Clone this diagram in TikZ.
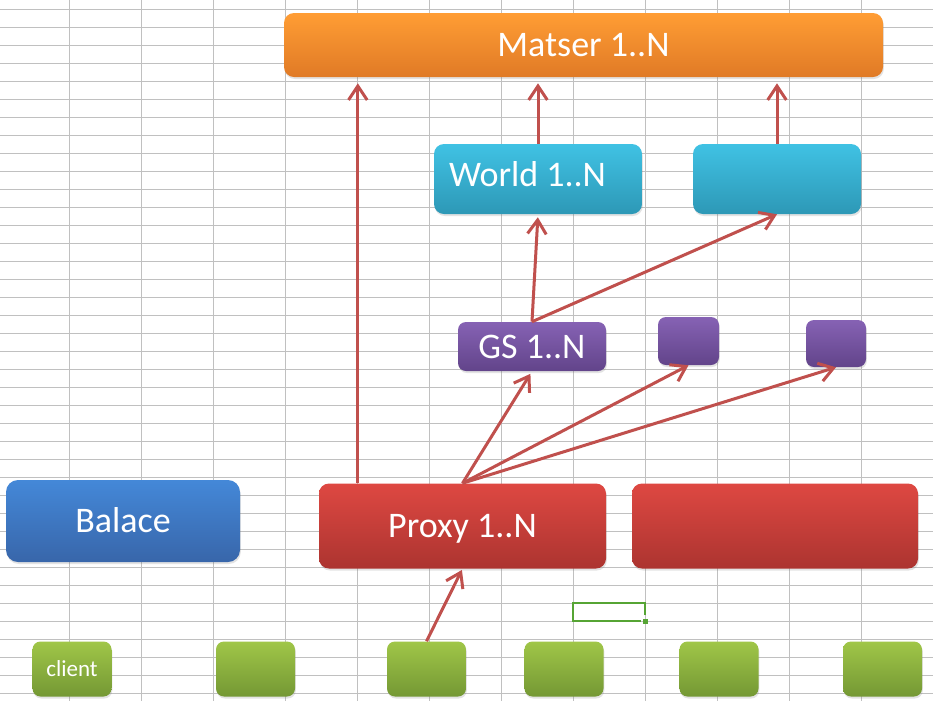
\documentclass[tikz,border=0pt]{standalone}
\usepackage{fontspec}
\setmainfont{Carlito}
\usetikzlibrary{arrows.meta,calc,shadows}

\definecolor{gridgray}{RGB}{192,192,192}
\definecolor{cellgreen}{RGB}{86,164,52}
\definecolor{linkred}{RGB}{192,80,77}
\definecolor{orangetop}{RGB}{255,157,52}
\definecolor{orangebot}{RGB}{224,122,38}
\definecolor{cyantop}{RGB}{64,194,228}
\definecolor{cyanbot}{RGB}{45,152,182}
\definecolor{purpletop}{RGB}{134,98,180}
\definecolor{purplebot}{RGB}{98,68,138}
\definecolor{redtop}{RGB}{222,72,66}
\definecolor{redbot}{RGB}{172,52,48}
\definecolor{bluetop}{RGB}{68,136,216}
\definecolor{bluebot}{RGB}{56,102,170}
\definecolor{greentop}{RGB}{160,198,72}
\definecolor{greenbot}{RGB}{116,152,52}

\begin{document}
\begin{tikzpicture}[x=0.75pt,y=-0.75pt,
  box/.style={rounded corners=7.5pt, inner sep=0pt, text=white,
    font=\fontsize{27}{32}\selectfont, text height=17.4pt, text depth=0pt,
    drop shadow={shadow xshift=0.6pt, shadow yshift=-1.5pt, opacity=0.22}},
  smallbox/.style={box, rounded corners=6pt},
  master/.style={box, top color=orangetop, bottom color=orangebot},
  world/.style={box, top color=cyantop, bottom color=cyanbot},
  gs/.style={smallbox, top color=purpletop, bottom color=purplebot},
  proxy/.style={box, top color=redtop, bottom color=redbot},
  balance/.style={box, rounded corners=9pt, top color=bluetop, bottom color=bluebot},
  client/.style={smallbox, top color=greentop, bottom color=greenbot,
    minimum width=59.25pt, minimum height=41.25pt},
  link/.style={draw=linkred, line width=2.25pt, line join=miter,
    -{Straight Barb[length=10.5pt,width=14pt]}},
]
  % sheet with grid lines
  \fill[white] (0,0) rectangle (933,701);
  \useasboundingbox (0,0) rectangle (933,701);
  \foreach \x in {69.3,141.3,...,933}{
    \draw[gridgray, line width=0.75pt] (\x,0) -- (\x,701);
  }
  \foreach \y in {9.3,27.3,...,701}{
    \draw[gridgray, line width=0.75pt] (0,\y) -- (933,\y);
  }
  % selected cell
  \draw[cellgreen, line width=2pt] (645,615) -- (645,603) -- (573,603) -- (573,621) -- (641,621);
  \fill[cellgreen] (642.5,618.5) rectangle (648,624);

  % boxes
  \node[master, minimum width=449.25pt, minimum height=48pt] (matser) at (583.5,45) {Matser 1..N};
  \node[world, minimum width=156pt, minimum height=52.5pt, text width=133.5pt, align=flush left,
    inner xsep=11.25pt, text depth=6pt] (world) at (538,179) {World 1..N};
  \node[world, minimum width=126pt, minimum height=52.5pt] (world2) at (777,179) {};
  \node[gs, minimum width=111pt, minimum height=36.75pt] (gs) at (532,346.5) {GS 1..N};
  \node[gs, minimum width=45.75pt, minimum height=36pt] (gs2) at (688.5,341) {};
  \node[gs, minimum width=45pt, minimum height=35.25pt] (gs3) at (836,343.5) {};
  \node[balance, minimum width=175.5pt, minimum height=61.5pt] (balace) at (123,521) {Balace};
  \node[proxy, minimum width=215.25pt, minimum height=63.75pt] (proxy) at (462.5,526) {Proxy 1..N};
  \node[proxy, minimum width=214.5pt, minimum height=63.75pt] (proxy2) at (775,526) {};
  \foreach \x [count=\i] in {72,255.5,426.5,564,719,882.5}{
    \node[client] (client\i) at (\x,669) {};
  }
  \node[font=\fontsize{17.25}{20}\selectfont, text=white, text height=11.1pt, text depth=0pt]
    (clientlabel) at (client1) {client};

  % connections
  \coordinate (proxyleft) at ($(proxy.north west)!0.136!(proxy.north east)$);
  \draw[link, shorten >=4.5pt] (proxyleft) -- (proxyleft |- matser.south);
  \draw[link, shorten >=4.5pt] (world.north) -- (world.north |- matser.south);
  \draw[link, shorten >=4.5pt] (world2.north) -- (world2.north |- matser.south);
  \draw[link, shorten >=2.25pt] (gs.north) -- (world.south);
  \draw[link] (gs.north) -- (world2.south);
  \draw[link, shorten >=2.25pt] (proxy.north) -- (gs.south);
  \draw[link] (proxy.north) -- (gs2.south);
  \draw[link] (proxy.north) -- (gs3.south);
  \draw[link, shorten >=1pt] (client3.north) -- (proxy.south);
\end{tikzpicture}
\end{document}
